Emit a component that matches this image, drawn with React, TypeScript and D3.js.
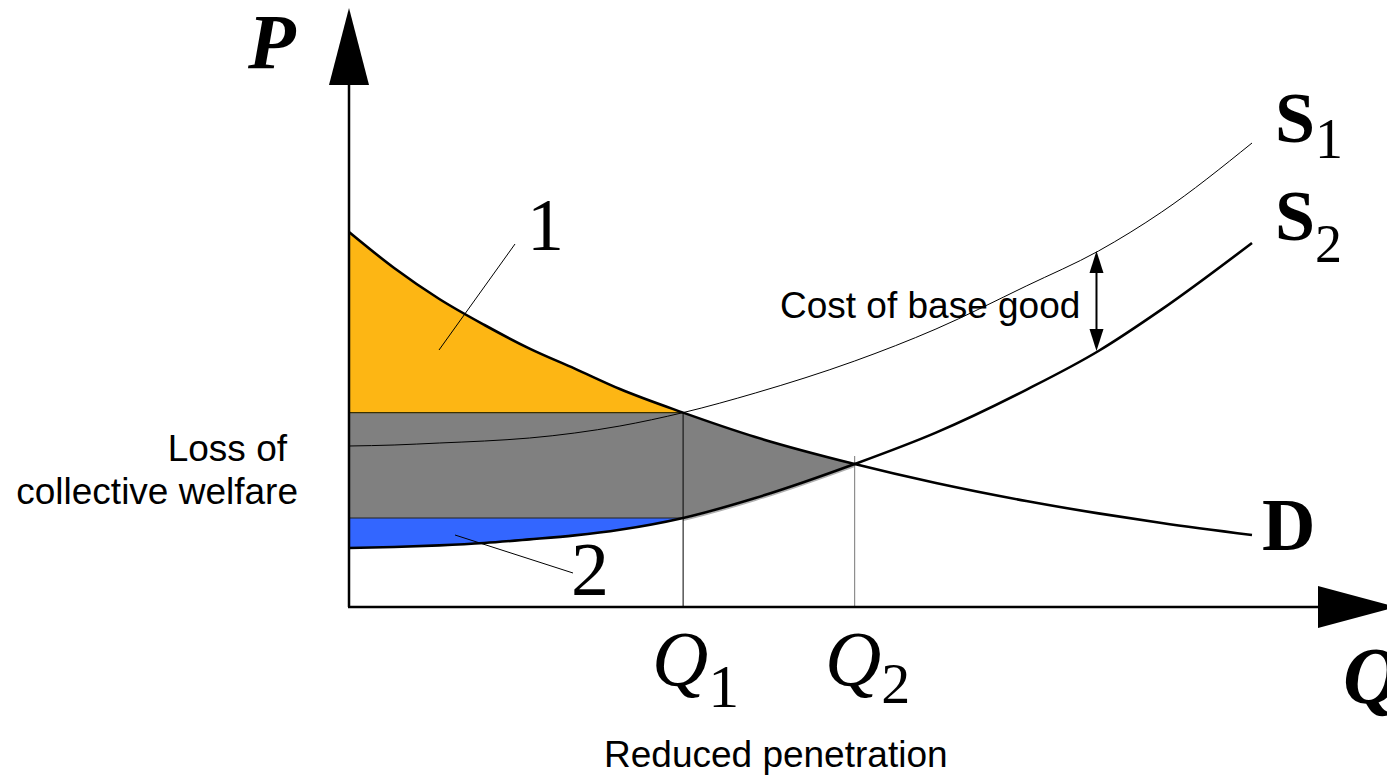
import React from "react";
import * as d3 from "d3";

// Quantity knots (x) shared by all curves
const quantity = [0, 5, 10, 15, 20, 25, 30, 37, 45, 56, 65, 75, 83, 90, 100];
// Demand curve D
const demand = [93.75, 84.75, 77, 70.5, 64.6, 59.6, 54.5, 48.6, 42.5, 35.75, 31, 26.5, 23.4, 21, 18];
// Supply S1 (with base good cost)
const supply1 = [40.25, 40.5, 41, 41.5, 42.25, 43.5, 45.25, 48.6, 53.5, 61.5, 69.5, 80.25, 89, 98.75, 116];
// Supply S2
const supply2 = [14.75, 15, 15.4, 16, 16.9, 17.9, 19.3, 22.25, 27.25, 35.75, 43.6, 54.3, 64, 74.4, 91];

const Q1 = 37;
const Q2 = 56;
const P1 = 48.6; // price at Q1 (D ∩ S1)
const P2low = 22.25; // S2 at Q1
const costQ = 83;

const W = 1387;
const H = 776;

export default function App() {
  const x = d3.scaleLinear().domain([0, 100]).range([349, 1252]);
  const y = d3.scaleLinear().domain([0, 100]).range([607, 207]);

  const idx = quantity.map((_, i) => i);
  const curve = d3.curveMonotoneX;
  const lineOf = (vals: number[]) =>
    d3.line<number>().x((i) => x(quantity[i])).y((i) => y(vals[i])).curve(curve)(idx) || "";

  const orangeArea =
    d3.area<number>().x((i) => x(quantity[i])).y0(y(P1)).y1((i) => y(demand[i])).curve(curve)(idx) || "";
  const grayTri =
    d3.area<number>().x((i) => x(quantity[i])).y0((i) => y(supply2[i])).y1((i) => y(demand[i])).curve(curve)(idx) || "";
  const blueArea =
    d3.area<number>().x((i) => x(quantity[i])).y0((i) => y(supply2[i])).y1(y(P2low)).curve(curve)(idx) || "";

  const ci = quantity.indexOf(costQ);
  const ax = x(costQ);
  const aTop = y(supply1[ci]);
  const aBot = y(supply2[ci]);

  const serif = "'Liberation Serif', 'Times New Roman', serif";
  const sans = "'Liberation Sans', Arial, Helvetica, sans-serif";

  return (
    <svg
      width={W}
      height={H}
      style={{ position: "absolute", left: 0, top: 0, background: "#fff" }}
      xmlns="http://www.w3.org/2000/svg"
    >
      <defs>
        <clipPath id="leftQ1">
          <rect x={x(0)} y={0} width={x(Q1) - x(0)} height={H} />
        </clipPath>
        <clipPath id="q1q2">
          <rect x={x(Q1)} y={0} width={x(Q2) - x(Q1)} height={H} />
        </clipPath>
      </defs>

      {/* Filled regions */}
      <path d={orangeArea} fill="#FDB614" clipPath="url(#leftQ1)" />
      <rect x={x(0)} y={y(P1)} width={x(Q1) - x(0)} height={y(P2low) - y(P1)} fill="#808080" />
      <path d={grayTri} fill="#808080" clipPath="url(#q1q2)" />
      <path d={blueArea} fill="#3366FF" clipPath="url(#leftQ1)" />
      <path d={lineOf(supply2)} fill="none" stroke="#b0b0b0" strokeWidth={2} transform="translate(0,2)" clipPath="url(#q1q2)" />

      {/* region boundary lines */}
      <line x1={x(0)} x2={x(Q1)} y1={y(P1)} y2={y(P1)} stroke="#3a3000" strokeWidth={1.2} />
      <line x1={x(0)} x2={x(Q1)} y1={y(P2low)} y2={y(P2low)} stroke="#222" strokeWidth={1.2} />

      {/* Q verticals */}
      <line x1={x(Q1)} x2={x(Q1)} y1={y(P1)} y2={y(0)} stroke="#000" strokeWidth={1} />
      <line x1={x(Q2)} x2={x(Q2)} y1={y(demand[quantity.indexOf(Q2)]) - 8} y2={y(0)} stroke="#777" strokeWidth={1} />

      {/* Curves */}
      <path d={lineOf(supply1)} fill="none" stroke="#000" strokeWidth={1} />
      <path d={lineOf(supply2)} fill="none" stroke="#000" strokeWidth={2.6} />
      <path d={lineOf(demand)} fill="none" stroke="#000" strokeWidth={2.6} />

      {/* Axes */}
      <line x1={x(0)} x2={x(0)} y1={y(0)} y2={85} stroke="#000" strokeWidth={2.5} />
      <polygon points={`${x(0) - 20},85 ${x(0) + 20},85 ${x(0)},8`} fill="#000" />
      <line x1={x(0) - 1} x2={1318} y1={y(0)} y2={y(0)} stroke="#000" strokeWidth={2.5} />
      <polygon points={`1318,${y(0) - 21} 1318,${y(0) + 21} 1396,${y(0)}`} fill="#000" />

      {/* Cost arrow */}
      <line x1={ax - 2} x2={ax - 2} y1={aTop + 18} y2={aBot - 18} stroke="#000" strokeWidth={2} />
      <polygon points={`${ax - 2},${aTop} ${ax - 9},${aTop + 22} ${ax + 5},${aTop + 22}`} fill="#000" />
      <polygon points={`${ax - 2},${aBot} ${ax - 9},${aBot - 22} ${ax + 5},${aBot - 22}`} fill="#000" />

      {/* Leader lines */}
      <line x1={439} y1={350} x2={515} y2={244} stroke="#000" strokeWidth={1} />
      <line x1={455} y1={535} x2={573} y2={573} stroke="#000" strokeWidth={1} />

      {/* Labels */}
      <text x={527} y={250} fontFamily={serif} fontSize={74}>1</text>
      <text x={571} y={595} fontFamily={serif} fontSize={76}>2</text>

      <text x={248} y={68} fontFamily={serif} fontSize={78} fontWeight="bold" fontStyle="italic">P</text>
      <text x={1343} y={703} fontFamily={serif} fontSize={80} fontWeight="bold" fontStyle="italic">Q</text>

      <text x={652} y={685} fontFamily={serif} fontSize={78} fontStyle="italic">
        Q<tspan fontStyle="normal" fontSize={62} dy={22}>1</tspan>
      </text>
      <text x={825} y={685} fontFamily={serif} fontSize={78} fontStyle="italic">
        Q<tspan fontStyle="normal" fontSize={58} dy={18}>2</tspan>
      </text>

      <text x={1275} y={142} fontFamily={serif} fontSize={72} fontWeight="bold">
        S<tspan fontWeight="normal" fontSize={56} dy={16}>1</tspan>
      </text>
      <text x={1275} y={240} fontFamily={serif} fontSize={72} fontWeight="bold">
        S<tspan fontWeight="normal" fontSize={54} dy={22}>2</tspan>
      </text>
      <text x={1262} y={550} fontFamily={serif} fontSize={74} fontWeight="bold">D</text>

      <text x={780} y={318} fontFamily={sans} fontSize={37}>Cost of base good</text>
      <text x={287} y={461} fontFamily={sans} fontSize={37} textAnchor="end">Loss of</text>
      <text x={298} y={504} fontFamily={sans} fontSize={37} textAnchor="end">collective welfare</text>
      <text x={604} y={767} fontFamily={sans} fontSize={37}>Reduced penetration</text>
    </svg>
  );
}
